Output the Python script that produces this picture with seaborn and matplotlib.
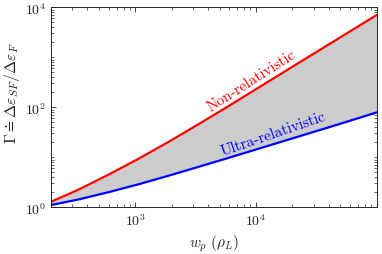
import numpy as np
import pandas as pd
import matplotlib
matplotlib.use('Agg')
import matplotlib.pyplot as plt
import matplotlib.ticker as mticker
import seaborn as sns

# values (log-log)
w_p = [200, 344, 610, 1080, 1915, 3400, 6010, 18900, 49000, 100000]
gamma_nonrel = [1.29, 2.30, 4.60, 9.55, 20.8, 47.1, 108, 593, 2430, 7000]
gamma_ultra = [1.11, 1.45, 2.03, 2.92, 4.34, 6.53, 9.86, 22.9, 46.2, 79]

df = pd.DataFrame({'w_p': w_p, 'Non-relativistic': gamma_nonrel,
                   'Ultra-relativistic': gamma_ultra})

sns.set_style('ticks')
plt.rcParams['font.family'] = ['cmr10', 'DejaVu Serif']
plt.rcParams['mathtext.fontset'] = 'cm'
plt.rcParams['axes.formatter.use_mathtext'] = True

fig = plt.figure(figsize=(3.82, 2.55), dpi=100)
ax = fig.add_axes([0.1335, 0.183, 0.8525, 0.7845])

ax.fill_between(df.w_p, df['Ultra-relativistic'], df['Non-relativistic'],
                color='#cccccc', lw=0)
sns.lineplot(data=df, x='w_p', y='Non-relativistic', color='#ff0000', lw=1.6, ax=ax)
sns.lineplot(data=df, x='w_p', y='Ultra-relativistic', color='#0000ff', lw=1.6, ax=ax)

ax.set_xscale('log')
ax.set_yscale('log')
ax.set_xlim(w_p[0], w_p[-1])
ax.set_ylim(1, 1e4)

ax.yaxis.set_major_locator(mticker.FixedLocator([1, 1e2, 1e4]))
ax.yaxis.set_minor_locator(mticker.LogLocator(base=10, subs=np.arange(1, 10), numticks=20))
ax.yaxis.set_minor_formatter(mticker.NullFormatter())
ax.xaxis.set_major_locator(mticker.FixedLocator([1e3, 1e4]))
ax.xaxis.set_minor_locator(mticker.LogLocator(base=10, subs=np.arange(1, 10), numticks=20))
ax.xaxis.set_minor_formatter(mticker.NullFormatter())

ax.tick_params(which='both', direction='in', top=True, right=True,
               colors='#262626', labelcolor='#262626', labelsize=10)
ax.tick_params(which='major', length=3.5, width=0.6)
ax.tick_params(which='minor', length=2, width=0.5)
for s in ax.spines.values():
    s.set_color('#262626')
    s.set_linewidth(0.7)

ax.set_xlabel(r'$w_p\ (\rho_L)$', fontsize=11, color='#262626', labelpad=3)
ax.set_ylabel(r'$\Gamma \doteq \Delta\varepsilon_{SF}/\Delta\varepsilon_F$',
              fontsize=11.5, color='#262626')
ax.yaxis.set_label_coords(-0.088, 0.577)

ax.text(0.615, 0.637, 'Non-relativistic', transform=ax.transAxes, color='#ff0000',
        fontsize=11, rotation=32.5, ha='center', va='center')
ax.text(0.682, 0.367, 'Ultra-relativistic', transform=ax.transAxes, color='#0000ff',
        fontsize=11, rotation=19, ha='center', va='center')

fig.savefig('out.png', dpi=100)
